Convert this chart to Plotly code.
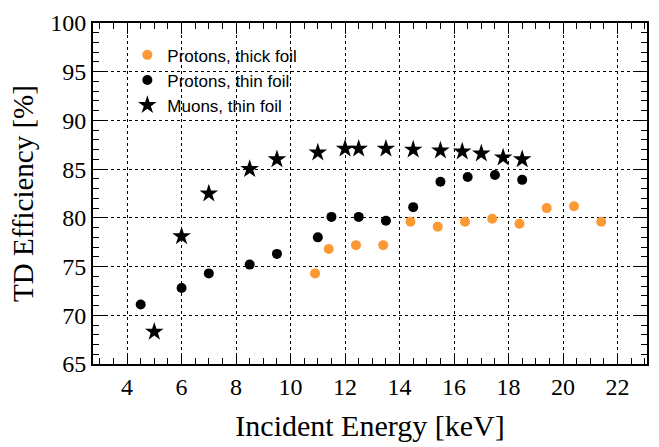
import plotly.graph_objects as go

# Protons, thick foil
thick_x = [10.9, 11.4, 12.4, 13.4, 14.4, 15.4, 16.4, 17.4, 18.4, 19.4, 20.4, 21.4]
thick_y = [74.3, 76.8, 77.2, 77.2, 79.6, 79.1, 79.6, 79.9, 79.4, 81.0, 81.2, 79.6]

# Protons, thin foil
thin_x = [4.5, 6.0, 7.0, 8.5, 9.5, 11.0, 11.5, 12.5, 13.5, 14.5, 15.5, 16.5, 17.5, 18.5]
thin_y = [71.1, 72.8, 74.3, 75.2, 76.3, 78.0, 80.1, 80.1, 79.7, 81.1, 83.7, 84.2, 84.4, 83.9]

# Muons, thin foil
muon_x = [5.0, 6.0, 7.0, 8.5, 9.5, 11.0, 12.0, 12.5, 13.5, 14.5, 15.5, 16.3, 17.0, 17.8, 18.5]
muon_y = [68.3, 78.1, 82.5, 85.0, 86.0, 86.7, 87.1, 87.1, 87.1, 87.0, 86.9, 86.8, 86.6, 86.2, 86.0]

names = ["Protons, thick foil", "Protons, thin foil", "Muons, thin foil"]
x_ticks = [4, 6, 8, 10, 12, 14, 16, 18, 20, 22]
y_ticks = [65, 70, 75, 80, 85, 90, 95, 100]

fig = go.Figure()
fig.add_trace(go.Scatter(x=thick_x, y=thick_y, mode="markers", name=names[0],
                         legendgroup="a",
                         marker=dict(symbol="circle", size=10, color="#fb9a35")))
fig.add_trace(go.Scatter(x=thin_x, y=thin_y, mode="markers", name=names[1],
                         legendgroup="b",
                         marker=dict(symbol="circle", size=10, color="black")))
fig.add_trace(go.Scatter(x=muon_x, y=muon_y, mode="markers", name=names[2],
                         legendgroup="c",
                         marker=dict(symbol="star", size=14, color="black")))

axis_common = dict(
    showline=True, linecolor="black", linewidth=2, mirror="ticks",
    ticks="inside", tickcolor="black", tickwidth=1,
    showgrid=True, gridcolor="black", gridwidth=1, griddash="dot",
    zeroline=False,
    tickfont=dict(family="Liberation Serif", size=24, color="black"),
)

fig.update_layout(
    width=659, height=447,
    margin=dict(l=93, r=10, t=17, b=79),
    paper_bgcolor="white", plot_bgcolor="white",
    xaxis=dict(range=[2.75, 23.08], tickvals=x_ticks, ticklen=11,
               minor=dict(dtick=0.5, ticks="inside", ticklen=6, tickcolor="black", showgrid=False),
               title=dict(text="Incident Energy [keV]", standoff=16,
                          font=dict(family="Liberation Serif", size=30, color="black")),
               **axis_common),
    yaxis=dict(range=[65, 100], tickvals=y_ticks, ticklen=12,
               minor=dict(dtick=1, ticks="inside", ticklen=6, tickcolor="black", showgrid=False),
               title=dict(text="TD Efficiency [%]", standoff=8,
                          font=dict(family="Liberation Serif", size=29, color="black")),
               **axis_common),
    legend=dict(x=0.062, y=0.958, xanchor="left", yanchor="top",
                bgcolor="rgba(0,0,0,0)", tracegroupgap=0,
                font=dict(family="Liberation Sans", size=17, color="black")),
    showlegend=True,
)

fig.write_html("out.html")
